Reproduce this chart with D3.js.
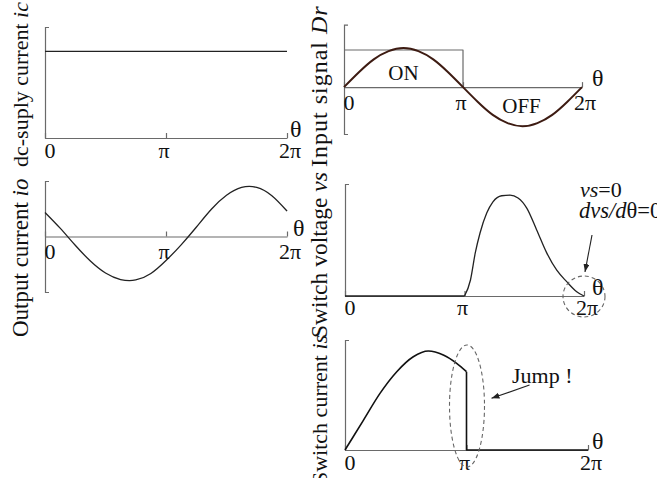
<!DOCTYPE html>
<html>
<head>
<meta charset="utf-8">
<script src="https://cdn.jsdelivr.net/npm/d3@7"></script>
<style>
  html, body { margin: 0; padding: 0; background: #fff; }
  svg { display: block; font-family: "Liberation Serif", "Times New Roman", serif; }
</style>
</head>
<body>
<svg id="chart" width="657" height="478"></svg>
<script>
// Angle samples, in units of π (0 … 2π)
const thetaSteps = [0, 0.125, 0.25, 0.375, 0.5, 0.625, 0.75, 0.875, 1,
                    1.125, 1.25, 1.375, 1.5, 1.625, 1.75, 1.875, 2];
const tickValues = [0, 1, 2];
const tickLabels = ["0", "π", "2π"];

// dc-supply current: constant level
const icTheta  = [0, 2];
const icValues = [0.78, 0.78];

// Input drive signal: sinusoid plus the ON pulse
const drValues = [0, 0.38, 0.71, 0.92, 1, 0.92, 0.71, 0.38, 0,
                  -0.38, -0.71, -0.92, -1, -0.92, -0.71, -0.38, 0];
const drPulseTheta  = [0, 1, 1];
const drPulseValues = [0.95, 0.95, 0];

// Output current
const ioValues = [0.52, 0.18, -0.19, -0.53, -0.79, -0.93, -0.94, -0.80, -0.52,
                  -0.18, 0.20, 0.59, 0.89, 1.06, 1.06, 0.88, 0.55];

// Switch voltage (zero while the switch is ON)
const vsOffTheta  = [0, 1];
const vsOffValues = [0, 0];
const vsTheta  = [1, 1.05, 1.09, 1.13, 1.186, 1.238, 1.311, 1.381, 1.448,
                  1.521, 1.604, 1.688, 1.772, 1.855, 1.939, 2];
const vsValues = [0, 0.143, 0.384, 0.5625, 0.74, 0.84, 0.895, 0.90, 0.875,
                  0.785, 0.59, 0.385, 0.23, 0.128, 0.038, 0];

// Switch current (conducts while ON, then drops to zero)
const isTheta  = [0, 0.151, 0.288, 0.426, 0.562, 0.686, 0.809, 0.919, 1];
const isValues = [0, 0.27, 0.515, 0.712, 0.848, 0.90, 0.864, 0.788, 0.712];
const isJumpTheta  = [1, 1, 2];
const isJumpValues = [0.712, 0, 0];

const zip = (ts, vs) => ts.map((t, i) => [t, vs[i]]);

const svg = d3.select("#chart");
const AXIS = "#6a6a6a";
const INK = "#111";

svg.append("defs").append("marker")
  .attr("id", "arrow")
  .attr("markerUnits", "userSpaceOnUse")
  .attr("markerWidth", 9).attr("markerHeight", 8)
  .attr("refX", 8).attr("refY", 3)
  .attr("orient", "auto")
  .append("path").attr("d", "M0,0L8,3L0,6Z").attr("fill", "#222");

const panels = [
  { key: "ic", xr: [45, 287], yd: [0, 1], yr: [138, 27], pad: 4, thetaDx: 3,
    label: { x: 28, y: 167, size: 22, spacing: 0, parts: [["dc-suply current ", false], ["ic", true]] } },
  { key: "dr", xr: [344, 582], yd: [-1.2, 1.6], yr: [134, 24.6], pad: 7, thetaDx: 10,
    label: { x: 327, y: 167, size: 24, spacing: 1, parts: [["Input signal ", false], ["Dr", true]] } },
  { key: "io", xr: [45, 287], yd: [-1.2, 1.2], yr: [292, 181], pad: 7, thetaDx: 6,
    label: { x: 28, y: 337, size: 23, spacing: 0, parts: [["Output current ", false], ["io", true]] } },
  { key: "vs", xr: [345, 584], yd: [0, 1], yr: [296, 184], pad: 3, thetaDx: 8,
    label: { x: 327, y: 338, size: 23.5, spacing: 0, parts: [["Switch voltage ", false], ["vs", true]] } },
  { key: "is", xr: [345, 588], yd: [0, 1], yr: [450, 340], pad: 4, thetaDx: 4,
    label: { x: 327, y: 484, size: 22, spacing: 0, parts: [["Switch current ", false], ["is", true]] } }
];

const tickShift = [5, -2, 3];   // horizontal nudge of "0", "π", "2π"
const scales = {};

// axes, brackets and quantity labels
panels.forEach(p => {
  const x = d3.scaleLinear().domain([0, 2]).range(p.xr);
  const y = d3.scaleLinear().domain(p.yd).range(p.yr);
  scales[p.key] = { x, y };
  const g = svg.append("g").attr("class", "panel-" + p.key);

  const ya = g.append("g")
    .attr("transform", `translate(${p.xr[0]},0)`)
    .call(d3.axisRight(y).tickValues([]).tickSizeOuter(4));
  ya.select(".domain").attr("stroke", AXIS).attr("stroke-width", 1.2);

  const xa = g.append("g")
    .attr("transform", `translate(0,${y(0)})`)
    .call(d3.axisBottom(x).tickValues(tickValues).tickFormat("")
      .tickSizeInner(-5).tickSizeOuter(0));
  xa.select(".domain").attr("stroke", AXIS).attr("stroke-width", 1.2);
  xa.selectAll(".tick line").attr("stroke", AXIS).attr("stroke-width", 1.2);
  xa.selectAll(".tick text").remove();

  const lt = g.append("text")
    .attr("transform", `translate(${p.label.x},${p.label.y}) rotate(-90)`)
    .attr("font-size", p.label.size)
    .attr("letter-spacing", p.label.spacing)
    .attr("fill", INK);
  p.label.parts.forEach(([s, it]) => {
    lt.append("tspan").attr("font-style", it ? "italic" : null).text(s);
  });
});

function drawLine(key, pts, curve, stroke, width) {
  const { x, y } = scales[key];
  svg.append("path")
    .datum(pts)
    .attr("fill", "none")
    .attr("stroke", stroke)
    .attr("stroke-width", width)
    .attr("stroke-linejoin", "round")
    .attr("d", d3.line().x(d => x(d[0])).y(d => y(d[1])).curve(curve));
}

// ic
drawLine("ic", zip(icTheta, icValues), d3.curveLinear, "#222", 1.3);

// Dr: pulse and sinusoid
drawLine("dr", zip(drPulseTheta, drPulseValues), d3.curveLinear, AXIS, 1.2);
drawLine("dr", zip(thetaSteps, drValues), d3.curveNatural, "#3d1b12", 2);

// io
drawLine("io", zip(thetaSteps, ioValues), d3.curveNatural, "#222", 1.3);

// vs
drawLine("vs", zip(vsOffTheta, vsOffValues), d3.curveLinear, "#222", 1.3);
drawLine("vs", zip(vsTheta, vsValues), d3.curveMonotoneX, "#222", 1.3);

// is
drawLine("is", zip(isTheta, isValues), d3.curveMonotoneX, "#111", 1.6);
drawLine("is", zip(isJumpTheta, isJumpValues), d3.curveLinear, "#111", 1.6);

// tick labels 0, π, 2π and the θ axis name, on top of everything
panels.forEach(p => {
  const { x, y } = scales[p.key];
  const lg = svg.append("g").attr("class", "ticks-" + p.key);
  lg.selectAll("text")
    .data(tickValues)
    .join("text")
    .attr("x", (d, i) => x(d) + tickShift[i])
    .attr("y", y(0) + p.pad)
    .attr("dy", "0.71em")
    .attr("text-anchor", "middle")
    .attr("font-size", 22)
    .attr("fill", INK)
    .text((d, i) => tickLabels[i]);
  lg.append("text")
    .attr("x", p.xr[1] + p.thetaDx).attr("y", y(0) - 1)
    .attr("font-size", 24).attr("fill", INK)
    .text("θ");
});

// ON / OFF labels
const dr = scales.dr;
svg.append("text").attr("x", dr.x(0.5)).attr("y", dr.y(0) - 7)
  .attr("text-anchor", "middle").attr("font-size", 21).attr("fill", INK).text("ON");
svg.append("text").attr("x", dr.x(1.5) - 1).attr("y", dr.y(0) + 26)
  .attr("text-anchor", "middle").attr("font-size", 21).attr("fill", INK).text("OFF");

// vs annotation: zero voltage and zero slope at 2π
const vsS = scales.vs;
const vsEnd = [vsS.x(2), vsS.y(0)];
svg.append("ellipse")
  .attr("cx", vsEnd[0]).attr("cy", vsEnd[1] + 0.5).attr("rx", 21).attr("ry", 20.5)
  .attr("fill", "none").attr("stroke", "#666").attr("stroke-width", 1.1)
  .attr("stroke-dasharray", "4,3");
svg.append("line")
  .attr("x1", vsEnd[0] + 8).attr("y1", vsEnd[1] - 61)
  .attr("x2", vsEnd[0] + 1).attr("y2", vsEnd[1] - 24)
  .attr("stroke", "#222").attr("stroke-width", 1.1)
  .attr("marker-end", "url(#arrow)");
const t1 = svg.append("text").attr("x", 580).attr("y", 197)
  .attr("font-size", 22).attr("fill", INK);
t1.append("tspan").attr("font-style", "italic").text("vs");
t1.append("tspan").text("=0");
const t2 = svg.append("text").attr("x", 579).attr("y", 218)
  .attr("font-size", 22.5).attr("fill", INK);
t2.append("tspan").attr("font-style", "italic").text("dvs/d");
t2.append("tspan").text("θ=0");

// is annotation: the current jump at π
const isS = scales.is;
const jx = isS.x(1);
svg.append("ellipse")
  .attr("cx", jx + 0.5).attr("cy", isS.y(0.4)).attr("rx", 17.5).attr("ry", 61)
  .attr("fill", "none").attr("stroke", "#666").attr("stroke-width", 1.1)
  .attr("stroke-dasharray", "4,3");
svg.append("line")
  .attr("x1", jx + 63).attr("y1", isS.y(0.59))
  .attr("x2", jx + 25).attr("y2", isS.y(0.47))
  .attr("stroke", "#222").attr("stroke-width", 1.1)
  .attr("marker-end", "url(#arrow)");
svg.append("text").attr("x", 512).attr("y", 383)
  .attr("font-size", 22).attr("fill", INK).text("Jump !");
</script>
</body>
</html>
